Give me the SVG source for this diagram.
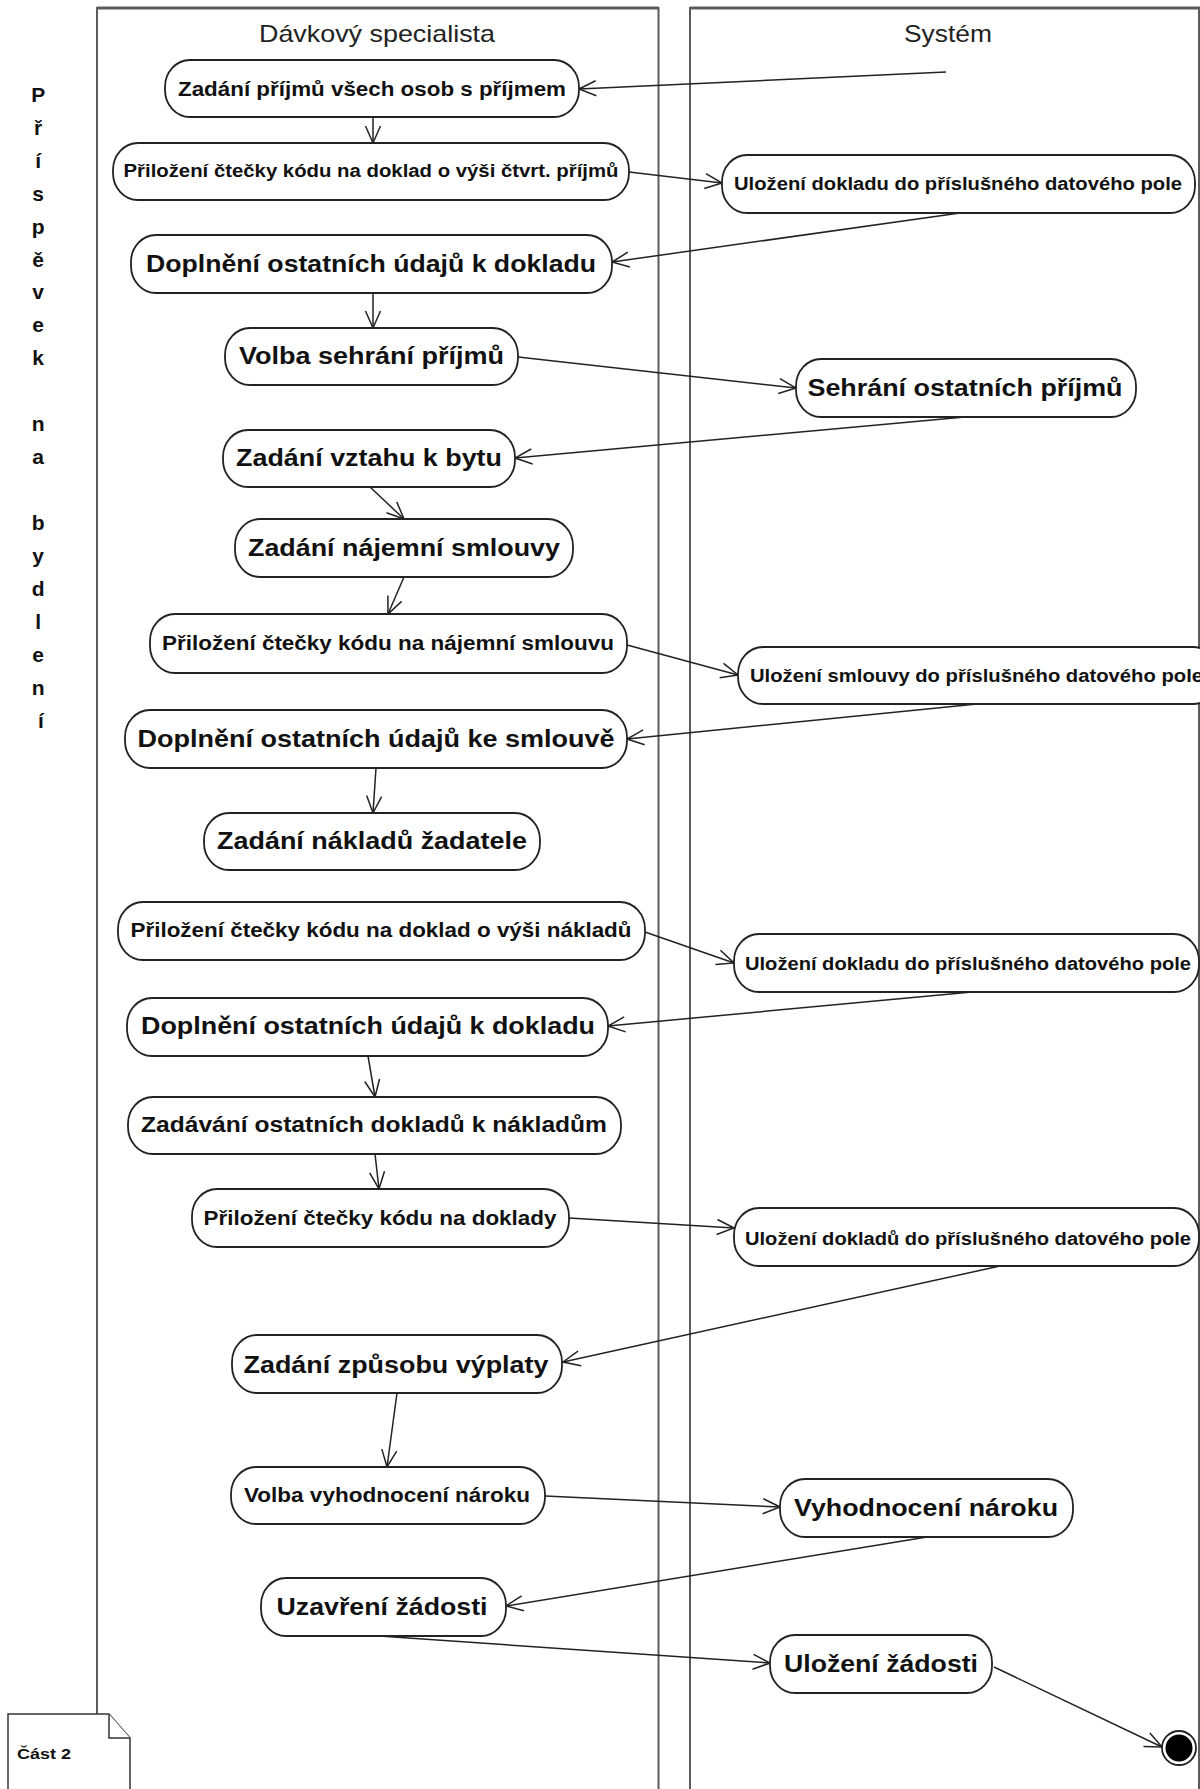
<svg xmlns="http://www.w3.org/2000/svg" width="1200" height="1789" viewBox="0 0 1200 1789">
  <style>
    .lane { fill: none; stroke: #5c5c5c; stroke-width: 2; }
    .lanetop { stroke: #5c5c5c; stroke-width: 3; }
    .hdr { font-family: 'Liberation Sans', Arial, sans-serif; font-size: 24px; fill: #222; text-anchor: middle; }
    .act rect { fill: #fff; stroke: #222; stroke-width: 1.8; }
    .act text { font-family: 'Liberation Sans', Arial, sans-serif; font-weight: bold; fill: #111; text-anchor: middle; }
    .lg { font-size: 23px; }
    .md2 { font-size: 21.5px; }
    .md { font-size: 19.5px; }
    .sm { font-size: 17.6px; }
    .flow line { fill: none; stroke: #222; stroke-width: 1.5; marker-end: url(#open); }
    .vlabel { font-family: 'Liberation Sans', Arial, sans-serif; font-weight: bold; font-size: 21px; fill: #111; text-anchor: middle; }
    .note path { fill: #fff; stroke: #333; stroke-width: 1.5; }
    .note text { font-family: 'Liberation Sans', Arial, sans-serif; font-weight: bold; font-size: 15.5px; fill: #111; }
  </style>
  <defs>
    <marker id="open" markerUnits="userSpaceOnUse" markerWidth="20" markerHeight="18" refX="17" refY="7.5" orient="auto" overflow="visible">
      <path d="M0,0 L17,7.5 L0,15" fill="none" stroke="#222" stroke-width="1.5"/>
    </marker>
  </defs>

  <rect width="1200" height="1789" fill="#fff"/>

  <!-- swimlanes -->
  <g id="lanes">
    <rect class="lane" x="97" y="8" width="561.5" height="1800"/>
    <line class="lanetop" x1="97" y1="8" x2="658.5" y2="8"/>
    <text class="hdr" x="377" y="42" textLength="236" lengthAdjust="spacingAndGlyphs">Dávkový specialista</text>
    <rect class="lane" x="690" y="8" width="509" height="1800"/>
    <line class="lanetop" x1="690" y1="8" x2="1200" y2="8"/>
    <text class="hdr" x="948" y="42" textLength="88" lengthAdjust="spacingAndGlyphs">Systém</text>
  </g>

  <!-- vertical process title -->
  <text class="vlabel" id="title">
    <tspan x="41" y="102">P</tspan>
    <tspan x="41" y="135">ř</tspan>
    <tspan x="41" y="168">í</tspan>
    <tspan x="41" y="201">s</tspan>
    <tspan x="41" y="234">p</tspan>
    <tspan x="41" y="267">ě</tspan>
    <tspan x="41" y="299">v</tspan>
    <tspan x="41" y="332">e</tspan>
    <tspan x="41" y="365">k</tspan>
    <tspan x="41" y="431">n</tspan>
    <tspan x="41" y="464">a</tspan>
    <tspan x="41" y="530">b</tspan>
    <tspan x="41" y="563">y</tspan>
    <tspan x="41" y="596">d</tspan>
    <tspan x="41" y="629">l</tspan>
    <tspan x="41" y="662">e</tspan>
    <tspan x="41" y="695">n</tspan>
    <tspan x="41" y="728">í</tspan>
  </text>

  <!-- control flows -->
  <g id="connectors" class="flow">
    <line x1="946" y1="72" x2="579" y2="89"/>
    <line x1="373" y1="117" x2="373" y2="143"/>
    <line x1="629" y1="172" x2="722" y2="183"/>
    <line x1="960" y1="213" x2="612" y2="262"/>
    <line x1="373" y1="293" x2="373" y2="328"/>
    <line x1="518" y1="357" x2="796" y2="388"/>
    <line x1="965" y1="417" x2="515" y2="458"/>
    <line x1="370" y1="487" x2="404" y2="519"/>
    <line x1="404" y1="577" x2="388" y2="614"/>
    <line x1="627" y1="645" x2="738" y2="675"/>
    <line x1="977" y1="704" x2="627" y2="739"/>
    <line x1="376" y1="768" x2="373" y2="813"/>
    <line x1="645" y1="932" x2="734" y2="963"/>
    <line x1="972" y1="992" x2="608" y2="1026"/>
    <line x1="368" y1="1056" x2="375" y2="1097"/>
    <line x1="375" y1="1154" x2="379" y2="1189"/>
    <line x1="569" y1="1218" x2="734" y2="1228"/>
    <line x1="1000" y1="1266" x2="563" y2="1362"/>
    <line x1="397" y1="1393" x2="387" y2="1467"/>
    <line x1="545" y1="1496" x2="780" y2="1507"/>
    <line x1="927" y1="1537" x2="506" y2="1606"/>
    <line x1="379" y1="1636" x2="770" y2="1663"/>
    <line x1="994" y1="1667" x2="1162" y2="1747"/>
  </g>

  <!-- actions: Dávkový specialista -->
  <g id="n1" class="act"><rect x="165" y="60" width="414" height="57" rx="25" ry="27"/><text class="md" x="372" y="96" textLength="388" lengthAdjust="spacingAndGlyphs">Zadání příjmů všech osob s příjmem</text></g>
  <g id="n2" class="act"><rect x="113" y="143" width="516" height="57" rx="25" ry="27"/><text class="sm" x="371" y="177" textLength="495" lengthAdjust="spacingAndGlyphs">Přiložení čtečky kódu na doklad o výši čtvrt. příjmů</text></g>
  <g id="n3" class="act"><rect x="131" y="235" width="481" height="58" rx="25" ry="27"/><text class="lg" x="371" y="272" textLength="450" lengthAdjust="spacingAndGlyphs">Doplnění ostatních údajů k dokladu</text></g>
  <g id="n4" class="act"><rect x="225" y="328" width="293" height="57" rx="25" ry="27"/><text class="lg" x="371.5" y="364" textLength="265" lengthAdjust="spacingAndGlyphs">Volba sehrání příjmů</text></g>
  <g id="n5" class="act"><rect x="223" y="430" width="292" height="57" rx="25" ry="27"/><text class="lg" x="369" y="466" textLength="266" lengthAdjust="spacingAndGlyphs">Zadání vztahu k bytu</text></g>
  <g id="n6" class="act"><rect x="235" y="519" width="338" height="58" rx="25" ry="27"/><text class="lg" x="404" y="556" textLength="312" lengthAdjust="spacingAndGlyphs">Zadání nájemní smlouvy</text></g>
  <g id="n7" class="act"><rect x="150" y="614" width="477" height="59" rx="25" ry="27"/><text class="md" x="388" y="650" textLength="452" lengthAdjust="spacingAndGlyphs">Přiložení čtečky kódu na nájemní smlouvu</text></g>
  <g id="n8" class="act"><rect x="125" y="710" width="502" height="58" rx="25" ry="27"/><text class="lg" x="376" y="747" textLength="477" lengthAdjust="spacingAndGlyphs">Doplnění ostatních údajů ke smlouvě</text></g>
  <g id="n9" class="act"><rect x="204" y="813" width="336" height="57" rx="25" ry="27"/><text class="lg" x="372" y="849" textLength="310" lengthAdjust="spacingAndGlyphs">Zadání nákladů žadatele</text></g>
  <g id="n10" class="act"><rect x="118" y="902" width="527" height="58" rx="25" ry="27"/><text class="md" x="381" y="937" textLength="501" lengthAdjust="spacingAndGlyphs">Přiložení čtečky kódu na doklad o výši nákladů</text></g>
  <g id="n11" class="act"><rect x="127" y="998" width="481" height="58" rx="25" ry="27"/><text class="lg" x="368" y="1034" textLength="454" lengthAdjust="spacingAndGlyphs">Doplnění ostatních údajů k dokladu</text></g>
  <g id="n12" class="act"><rect x="128" y="1097" width="493" height="57" rx="25" ry="27"/><text class="md2" x="374" y="1132" textLength="466" lengthAdjust="spacingAndGlyphs">Zadávání ostatních dokladů k nákladům</text></g>
  <g id="n13" class="act"><rect x="192" y="1189" width="377" height="58" rx="25" ry="27"/><text class="md" x="380" y="1225" textLength="353" lengthAdjust="spacingAndGlyphs">Přiložení čtečky kódu na doklady</text></g>
  <g id="n14" class="act"><rect x="232" y="1335" width="330" height="58" rx="25" ry="27"/><text class="lg" x="396" y="1373" textLength="305" lengthAdjust="spacingAndGlyphs">Zadání způsobu výplaty</text></g>
  <g id="n15" class="act"><rect x="231" y="1467" width="314" height="57" rx="25" ry="27"/><text class="md" x="387" y="1502" textLength="286" lengthAdjust="spacingAndGlyphs">Volba vyhodnocení nároku</text></g>
  <g id="n16" class="act"><rect x="261" y="1578" width="245" height="58" rx="25" ry="27"/><text class="lg" x="382" y="1615" textLength="211" lengthAdjust="spacingAndGlyphs">Uzavření žádosti</text></g>

  <!-- actions: Systém -->
  <g id="s1" class="act"><rect x="722" y="155" width="473" height="58" rx="25" ry="27"/><text class="sm" x="958" y="190" textLength="448" lengthAdjust="spacingAndGlyphs">Uložení dokladu do příslušného datového pole</text></g>
  <g id="s2" class="act"><rect x="796" y="359" width="340" height="58" rx="25" ry="27"/><text class="lg" x="965" y="396" textLength="315" lengthAdjust="spacingAndGlyphs">Sehrání ostatních příjmů</text></g>
  <g id="s3" class="act"><rect x="738" y="647" width="480" height="57" rx="25" ry="27"/><text class="sm" x="750" y="682" style="text-anchor:start" textLength="453" lengthAdjust="spacingAndGlyphs">Uložení smlouvy do příslušného datového pole</text></g>
  <g id="s4" class="act"><rect x="734" y="934" width="465" height="58" rx="25" ry="27"/><text class="sm" x="968" y="970" textLength="446" lengthAdjust="spacingAndGlyphs">Uložení dokladu do příslušného datového pole</text></g>
  <g id="s5" class="act"><rect x="734" y="1208" width="465" height="58" rx="25" ry="27"/><text class="sm" x="968" y="1245" textLength="446" lengthAdjust="spacingAndGlyphs">Uložení dokladů do příslušného datového pole</text></g>
  <g id="s6" class="act"><rect x="780" y="1479" width="293" height="58" rx="25" ry="27"/><text class="lg" x="926" y="1516" textLength="264" lengthAdjust="spacingAndGlyphs">Vyhodnocení nároku</text></g>
  <g id="s7" class="act"><rect x="770" y="1635" width="222" height="58" rx="25" ry="27"/><text class="lg" x="881" y="1672" textLength="194" lengthAdjust="spacingAndGlyphs">Uložení žádosti</text></g>

  <!-- final node -->
  <g id="final">
    <circle cx="1179" cy="1748" r="17" fill="#fff" stroke="#222" stroke-width="1.8"/>
    <circle cx="1179" cy="1748" r="13.5" fill="#000"/>
  </g>

  <!-- note -->
  <g id="note" class="note">
    <path d="M8,1714 L109,1714 L130,1738 L130,1800 L8,1800 Z"/>
    <path d="M109,1714 L109,1738 L130,1738"/>
    <text x="17" y="1759" textLength="54" lengthAdjust="spacingAndGlyphs">Část 2</text>
  </g>
</svg>
